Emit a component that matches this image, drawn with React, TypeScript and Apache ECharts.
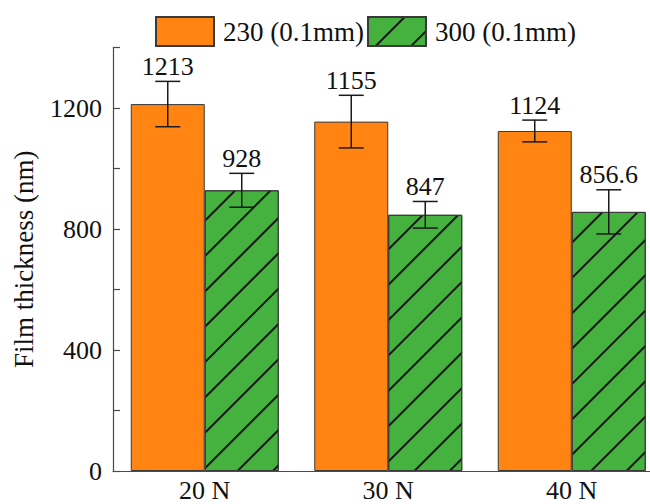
import React, { useEffect, useRef } from "react";
import * as echarts from "echarts";

// Film thickness measured at three normal loads for two roller gaps
const categories = ["20 N", "30 N", "40 N"];
const seriesNames = ["230 (0.1mm)", "300 (0.1mm)"];
const thickness230 = [1213, 1155, 1124];
const thickness300 = [928, 847, 856.6];
const error230 = [75, 87, 36];
const error300 = [56, 44, 73];

const FONT = "'Liberation Serif', 'Times New Roman', serif";
const ORANGE = "#FF8412";
const GREEN = "#45B240";
const AXIS = "#4a4a4a";
const BAR_WIDTH = 74;

export default function App() {
  const ref = useRef<HTMLDivElement>(null);

  useEffect(() => {
    if (!ref.current) return;
    const chart = echarts.init(ref.current, null, { renderer: "svg" });

    // one row per bar: [categoryIndex, seriesIndex, value, error]
    const errRows: number[][] = [];
    categories.forEach((_, i) => {
      errRows.push([i, 0, thickness230[i], error230[i]]);
      errRows.push([i, 1, thickness300[i], error300[i]]);
    });

    const option: any = {
      animation: false,
      backgroundColor: "#ffffff",
      grid: {
        left: 113,
        top: 47.5,
        bottom: 33,
        right: -13.5,
        containLabel: false,
        outerBoundsMode: "none",
      },
      legend: {
        data: seriesNames,
        left: 155,
        top: 16,
        padding: 0,
        icon: "rect",
        itemWidth: 58,
        itemHeight: 29,
        itemGap: 3,
        textStyle: { fontFamily: FONT, fontSize: 27, color: "#111", padding: [0, 0, 0, 4] },
      },
      xAxis: {
        type: "category",
        data: categories,
        axisLine: { lineStyle: { color: AXIS, width: 1.2 } },
        axisTick: { show: false },
        axisLabel: { fontFamily: FONT, fontSize: 26, color: "#111", margin: 6 },
      },
      yAxis: {
        type: "value",
        min: 0,
        max: 1400,
        interval: 200,
        name: "Film thickness (nm)",
        nameLocation: "middle",
        nameGap: 76,
        nameTextStyle: { fontFamily: FONT, fontSize: 27, color: "#111" },
        axisLine: { show: true, lineStyle: { color: AXIS, width: 1.2 } },
        axisTick: { show: true, inside: true, length: 7, lineStyle: { color: AXIS, width: 1.2 } },
        axisLabel: {
          fontFamily: FONT,
          fontSize: 26,
          color: "#111",
          margin: 11,
          formatter: (v: number) => (v % 400 === 0 ? String(v) : ""),
        },
        splitLine: { show: false },
      },
      series: [
        {
          name: seriesNames[0],
          type: "bar",
          data: thickness230,
          barWidth: BAR_WIDTH,
          barGap: "0%",
          itemStyle: { color: ORANGE, borderColor: "#3a3a3a", borderWidth: 1 },
        },
        {
          name: seriesNames[1],
          type: "bar",
          data: thickness300,
          barWidth: BAR_WIDTH,
          barGap: "0%",
          itemStyle: {
            color: GREEN,
            borderColor: "#3a3a3a",
            borderWidth: 1,
            decal: {
              symbol: "rect",
              symbolSize: 1,
              dashArrayX: [1, 0],
              dashArrayY: [2, 23],
              rotation: -Math.PI / 4,
              color: "#151515",
            },
          },
        },
        {
          type: "custom",
          z: 10,
          silent: true,
          data: errRows,
          encode: { x: 0, y: 2 },
          renderItem: (params: any, api: any) => {
            const cat = api.value(0);
            const s = api.value(1);
            const v = api.value(2);
            const e = api.value(3);
            const center = api.coord([cat, v]);
            const x = center[0] + (s === 0 ? -BAR_WIDTH / 2 : BAR_WIDTH / 2);
            const yTop = api.coord([cat, v + e])[1];
            const yBot = api.coord([cat, v - e])[1];
            const cap = 12.5;
            const line = { stroke: "#1a1a1a", lineWidth: 1.5 };
            return {
              type: "group",
              children: [
                { type: "line", shape: { x1: x, y1: yTop, x2: x, y2: yBot }, style: line },
                { type: "line", shape: { x1: x - cap, y1: yTop, x2: x + cap, y2: yTop }, style: line },
                { type: "line", shape: { x1: x - cap, y1: yBot, x2: x + cap, y2: yBot }, style: line },
                {
                  type: "text",
                  style: {
                    text: String(v),
                    x,
                    y: yTop - 2,
                    align: "center",
                    verticalAlign: "bottom",
                    fontFamily: FONT,
                    fontSize: 26,
                    fill: "#111",
                  },
                },
              ],
            };
          },
        },
      ],
    };

    chart.setOption(option);
    return () => chart.dispose();
  }, []);

  return (
    <div
      ref={ref}
      style={{ position: "fixed", left: 0, top: 0, width: 650, height: 504, background: "#fff" }}
    />
  );
}
